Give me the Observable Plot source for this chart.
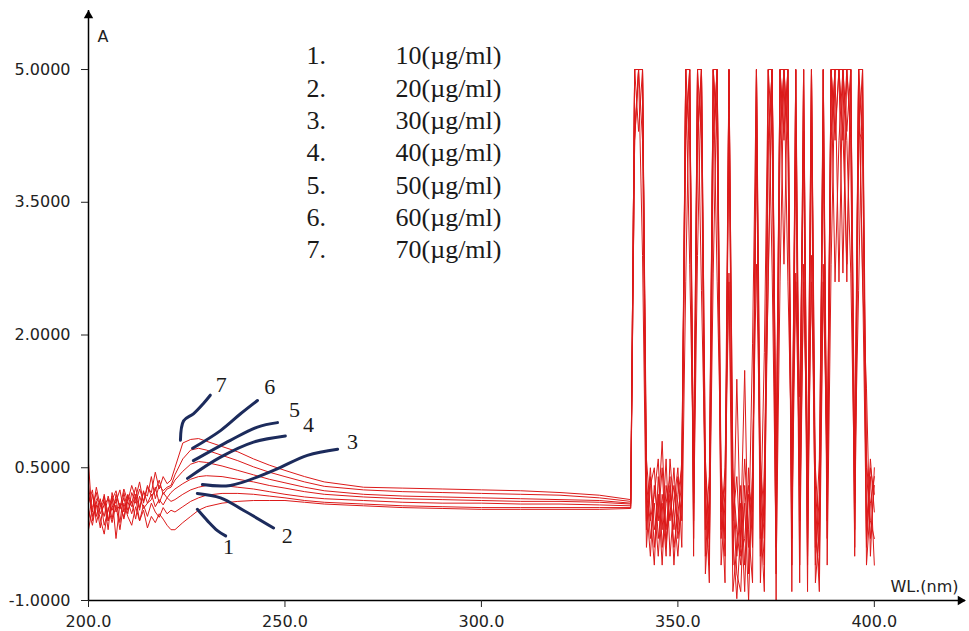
<!DOCTYPE html>
<html>
<head>
<meta charset="utf-8">
<script src="https://cdn.jsdelivr.net/npm/d3@7"></script>
<script src="https://cdn.jsdelivr.net/npm/@observablehq/plot@0.6"></script>
<style>
  html, body { margin: 0; padding: 0; background: #fff; }
</style>
</head>
<body>
<div id="chart"></div>
<script>
// ---------- data ----------
const wavelength = [
  200,201,202,203,204,205,206,207,208,209,210,211,212,213,214,215,216,217,218,219,220,221,
  222,224,226,228,230,234,238,242,246,250,255,260,270,280,290,300,310,320,330,338,
  339,340,341,342,343,344,345,346,347,348,
  349,350,351,352,353,354,355,356,357,358,
  359,360,361,362,363,364,365,366,367,368,
  369,370,371,372,373,374,375,376,377,378,
  379,380,381,382,383,384,385,386,387,388,
  389,390,391,392,393,394,395,396,397,398,
  399,400
];

const s1 = [
  0.02,-0.15,0.12,-0.08,-0.25,0.05,-0.12,0.08,-0.20,0.10,-0.05,-0.15,0.06,-0.10,0.02,-0.18,-0.05,-0.12,-0.02,-0.08,-0.15,-0.20,
  -0.20,-0.12,-0.05,0.02,0.06,0.10,0.12,0.13,0.13,0.13,0.11,0.09,0.07,0.05,0.04,0.03,0.03,0.03,0.03,0.04,
  4.2,5.0,5.0,0.4,-0.3,0.1,-0.5,0.2,-0.2,0.3,
  -0.4,0.0,0.3,5.0,5.0,0.2,4.3,5.0,-0.7,0.1,
  5.0,4.2,-0.3,0.2,2.6,-0.9,-0.4,0.3,-0.6,0.2,
  -0.2,5.0,-0.5,0.1,4.2,5.0,-1.0,5.0,5.0,4.3,
  -0.3,5.0,-0.6,2.8,0.2,5.0,-0.8,-0.2,4.2,0.3,
  5.0,5.0,5.0,4.2,5.0,5.0,0.1,5.0,4.3,-0.4,
  0.4,-0.6
];
const s2 = [
  -0.10,0.20,-0.05,0.15,-0.15,0.02,0.18,-0.30,0.10,-0.08,0.12,-0.02,0.16,-0.10,0.08,-0.05,0.10,0.00,-0.06,0.05,-0.02,0.02,
  0.00,0.06,0.12,0.16,0.19,0.21,0.21,0.20,0.18,0.16,0.13,0.11,0.09,0.07,0.06,0.05,0.05,0.05,0.05,0.05,
  5.0,5.0,4.2,-0.2,0.4,-0.4,0.2,-0.6,0.3,-0.1,
  0.5,-0.3,0.1,4.2,5.0,-0.3,5.0,2.5,0.3,-0.8,
  4.3,5.0,0.4,-0.5,5.0,-0.3,-0.98,-0.2,1.6,-0.7,
  0.4,4.2,0.2,-0.6,5.0,2.7,-0.4,4.2,5.0,5.0,
  -0.9,4.3,0.3,5.0,-0.5,2.9,-0.2,-0.7,5.0,-0.3,
  4.3,5.0,2.6,5.0,5.0,4.2,-0.5,4.2,5.0,0.5,
  -0.3,0.3
];
const s3 = [
  0.30,-0.05,0.08,-0.18,0.20,-0.10,0.05,0.15,-0.12,0.22,0.02,0.12,-0.08,0.18,0.04,0.10,0.20,0.06,0.14,0.08,0.16,0.12,
  0.14,0.20,0.25,0.28,0.30,0.30,0.28,0.26,0.23,0.20,0.17,0.15,0.13,0.11,0.10,0.10,0.09,0.09,0.08,0.07,
  5.0,4.3,5.0,0.1,-0.5,0.3,-0.1,0.5,-0.4,0.2,
  -0.2,0.4,-0.1,5.0,2.8,0.5,5.0,5.0,-0.2,0.4,
  5.0,5.0,-0.6,0.1,4.2,0.2,-0.7,-0.9,0.3,-0.4,
  1.9,5.0,-0.8,0.5,2.6,5.0,0.2,5.0,4.2,5.0,
  0.4,2.7,1.3,4.2,-0.9,5.0,0.3,-0.5,2.8,0.6,
  5.0,4.3,5.0,5.0,2.6,5.0,0.4,2.5,5.0,-0.2,
  0.6,0.0
];
const s4 = [
  0.10,0.25,-0.12,0.05,0.12,-0.20,0.22,0.00,0.08,-0.06,0.18,0.06,0.20,0.02,0.24,0.10,0.14,0.28,0.10,0.22,0.16,0.22,
  0.26,0.32,0.37,0.40,0.41,0.40,0.37,0.34,0.30,0.27,0.23,0.20,0.17,0.15,0.14,0.13,0.12,0.12,0.11,0.09,
  4.3,5.0,5.0,0.6,0.0,-0.6,0.4,-0.2,0.6,-0.5,
  0.1,0.5,-0.4,2.6,5.0,-0.1,2.9,5.0,0.5,-0.4,
  2.7,5.0,0.2,-0.8,5.0,0.4,-0.2,-0.6,0.1,-1.0,
  0.5,2.8,0.4,-0.3,5.0,4.2,-0.7,2.6,5.0,4.2,
  0.1,5.0,0.6,5.0,-0.3,4.2,-0.6,0.2,5.0,-0.6,
  2.8,5.0,5.0,2.7,5.0,4.3,-0.2,5.0,2.6,1.4,
  -0.5,0.5
];
const s5 = [
  -0.20,0.05,0.22,-0.02,0.08,0.15,-0.08,0.20,0.04,0.16,-0.02,0.22,0.10,0.26,0.12,0.30,0.18,0.24,0.36,0.20,0.26,0.28,
  0.36,0.46,0.54,0.57,0.56,0.52,0.47,0.42,0.37,0.33,0.28,0.24,0.20,0.18,0.17,0.16,0.15,0.14,0.13,0.10,
  5.0,5.0,2.9,-0.4,0.3,0.5,-0.3,0.1,-0.5,0.6,
  0.0,-0.5,0.2,5.0,4.2,0.1,4.2,5.0,-0.5,0.2,
  5.0,2.6,0.5,-0.3,5.0,-0.6,1.5,-0.4,0.6,-0.2,
  -0.8,5.0,0.0,-0.9,4.2,5.0,0.4,5.0,2.8,5.0,
  -0.6,5.0,-0.1,2.6,0.5,5.0,-0.4,0.6,4.3,-0.1,
  5.0,2.6,4.2,5.0,4.3,5.0,0.6,5.0,5.0,-0.6,
  0.1,0.4
];
const s6 = [
  0.55,-0.10,0.15,0.10,-0.05,0.18,0.02,0.12,0.25,0.00,0.20,0.10,0.28,0.05,0.22,0.18,0.40,0.15,0.30,0.24,0.28,0.30,
  0.42,0.60,0.70,0.72,0.70,0.64,0.58,0.51,0.45,0.40,0.34,0.29,0.25,0.23,0.22,0.21,0.20,0.19,0.16,0.12,
  5.0,5.0,5.0,0.2,-0.1,0.2,0.6,-0.4,0.1,0.4,
  -0.6,0.2,0.5,5.0,5.0,0.4,5.0,4.2,0.0,-0.6,
  4.2,5.0,-0.2,0.5,2.7,-0.1,0.4,-0.5,-0.3,0.3,
  0.0,4.3,-0.3,1.8,5.0,5.0,-0.2,4.3,5.0,2.6,
  0.6,4.2,-0.8,5.0,0.1,2.6,0.5,-0.3,5.0,0.2,
  4.2,5.0,5.0,4.3,2.8,5.0,-0.4,4.3,4.2,0.6,
  -0.1,-0.3
];
const s7 = [
  0.20,0.00,0.28,0.06,0.18,-0.10,0.14,0.24,0.04,0.26,0.12,0.30,0.16,0.34,0.10,0.28,0.22,0.45,0.26,0.40,0.32,0.36,
  0.50,0.78,0.82,0.83,0.80,0.74,0.68,0.60,0.53,0.47,0.40,0.34,0.28,0.27,0.26,0.25,0.24,0.22,0.19,0.14,
  4.2,5.0,5.0,-0.1,0.5,-0.2,0.0,0.8,-0.3,0.0,
  0.3,-0.2,0.6,4.3,5.0,-0.5,5.0,5.0,0.6,-0.3,
  5.0,4.3,0.0,0.3,5.0,0.5,-0.5,0.1,-0.9,0.5,
  -0.4,5.0,0.6,-0.1,2.7,5.0,0.6,5.0,4.3,5.0,
  -0.2,2.6,0.4,4.3,-0.6,5.0,0.0,-0.9,2.6,0.5,
  5.0,4.2,5.0,5.0,4.2,2.7,0.2,5.0,2.7,-0.3,
  0.5,0.2
];
const seriesValues = [s1, s2, s3, s4, s5, s6, s7];

const xTicks = [200, 250, 300, 350, 400];
const yTicks = [-1.0, 0.5, 2.0, 3.5, 5.0];

const legendNums = ["1.", "2.", "3.", "4.", "5.", "6.", "7."];
const legendLabels = ["10(µg/ml)", "20(µg/ml)", "30(µg/ml)", "40(µg/ml)", "50(µg/ml)", "60(µg/ml)", "70(µg/ml)"];

// hand-drawn pointer strokes (wavelength, absorbance)
const pointer1 = [[227.7, 0.03], [230.3, -0.10], [232.8, -0.21], [234.9, -0.27]];
const pointer2 = [[227.7, 0.21], [233.6, 0.16], [239.4, 0.02], [247.1, -0.18]];
const pointer3 = [[229.0, 0.31], [236.1, 0.30], [247.1, 0.47], [255.7, 0.64], [263.4, 0.71]];
const pointer4 = [[225.2, 0.38], [233.6, 0.62], [242.0, 0.79], [250.1, 0.86]];
const pointer5 = [[226.7, 0.58], [236.1, 0.81], [243.0, 0.96], [248.1, 1.01]];
const pointer6 = [[226.5, 0.72], [233.6, 0.92], [238.7, 1.11], [243.0, 1.26]];
const pointer7 = [[223.4, 0.81], [224.2, 1.03], [226.7, 1.11], [229.3, 1.23], [231.0, 1.32]];
const pointers = [pointer1, pointer2, pointer3, pointer4, pointer5, pointer6, pointer7];

const curveLabels = ["1", "2", "3", "4", "5", "6", "7"];
const curveLabelWl = [235.6, 250.6, 267.2, 256.0, 252.4, 246.1, 233.8];
const curveLabelA = [-0.39, -0.27, 0.79, 0.98, 1.15, 1.41, 1.44];

// ---------- build tables ----------
const rows = [];
seriesValues.forEach((vals, i) => {
  vals.forEach((v, j) => rows.push({wl: wavelength[j], a: v, series: i + 1}));
});
const strokeRows = [];
pointers.forEach((pts, i) => pts.forEach(([w, a]) => strokeRows.push({wl: w, a, id: i + 1})));
const labelRows = curveLabels.map((t, i) => ({t, wl: curveLabelWl[i], a: curveLabelA[i]}));

const xMax = 423.2, yMax = 5.667;

const chart = Plot.plot({
  width: 969,
  height: 631,
  marginLeft: 88,
  marginRight: 4,
  marginTop: 10,
  marginBottom: 31,
  style: {fontFamily: "DejaVu Sans", fontSize: "16px", background: "#fff", color: "#222"},
  x: {domain: [200, xMax]},
  y: {domain: [-1, yMax]},
  marks: [
    Plot.line(rows, {x: "wl", y: "a", z: "series", stroke: "#dc1a1a", strokeWidth: 1}),
    Plot.line(strokeRows, {x: "wl", y: "a", z: "id", stroke: "#1c2b5c", strokeWidth: 3, curve: "catmull-rom", strokeLinecap: "round"}),
    Plot.text(labelRows, {x: "wl", y: "a", text: "t", fontFamily: "Liberation Serif", fontSize: 22, fill: "#1a1a1a"}),
    Plot.ruleX([200], {y1: -1, y2: yMax, stroke: "#000", strokeWidth: 1.5}),
    Plot.ruleY([-1], {x1: 200, x2: xMax, stroke: "#000", strokeWidth: 1.5}),
    Plot.dot([{x: 200, y: yMax}], {x: "x", y: "y", symbol: "triangle", r: 3.5, fill: "#000", stroke: null, dy: 5}),
    Plot.dot([{x: xMax, y: -1}], {x: "x", y: "y", symbol: "triangle", r: 3.5, fill: "#000", stroke: null, rotate: 90, dx: -5}),
    Plot.axisX({ticks: xTicks, tickFormat: d => d.toFixed(1), tickSize: 7, tickPadding: 8, label: null, fontSize: 16}),
    Plot.axisY({ticks: yTicks, tickFormat: d => d.toFixed(4), tickSize: 7, tickPadding: 11, label: null, fontSize: 16}),
    Plot.text(["A"], {frameAnchor: "top-left", dx: 9, dy: 20, textAnchor: "start", lineAnchor: "top", fontSize: 16, fill: "#222"}),
    Plot.text(["WL.(nm)"], {frameAnchor: "bottom-right", dx: -7, dy: -9, textAnchor: "end", lineAnchor: "bottom", fontSize: 16, fill: "#222"}),
    Plot.text([legendNums.join("\n")], {frameAnchor: "top-left", dx: 218, dy: 31, textAnchor: "start", lineAnchor: "top", lineHeight: 1.242, fontFamily: "Liberation Serif", fontSize: 26, fill: "#1a1a1a"}),
    Plot.text([legendLabels.join("\n")], {frameAnchor: "top-left", dx: 307, dy: 31, textAnchor: "start", lineAnchor: "top", lineHeight: 1.242, fontFamily: "Liberation Serif", fontSize: 26, fill: "#1a1a1a"})
  ]
});
document.getElementById("chart").appendChild(chart);
</script>
</body>
</html>
